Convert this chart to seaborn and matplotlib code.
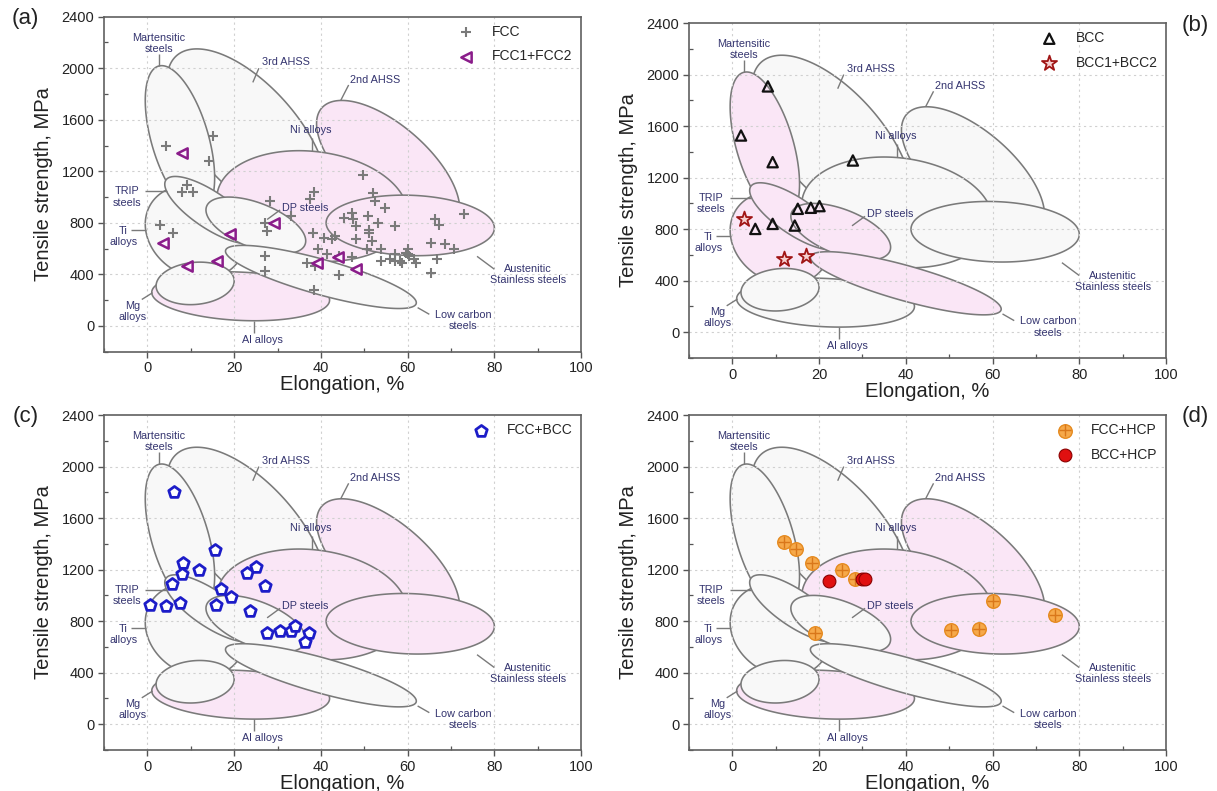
import numpy as np
import matplotlib
matplotlib.use("Agg")
import matplotlib.pyplot as plt
from matplotlib.ticker import MultipleLocator
from matplotlib.legend_handler import HandlerTuple
import seaborn as sns

# ---------------- property regions (ellipses) ----------------
# centre (elongation %, MPa), half-width (%), half-height (MPa),
# y-offset of the right-most point from the centre (MPa, gives the tilt)
region_names = ["3rd AHSS", "Martensitic", "2nd AHSS", "Ni alloys", "Austenitic",
                "Al alloys", "Ti alloys", "TRIP", "Mg alloys", "DP steels", "Low carbon"]
region_cx = [23.0, 7.5, 55.5, 38.0, 60.6, 21.5, 11.0, 14.5, 11.0, 25.0, 40.0]
region_cy = [1480, 1450, 1240, 930, 780, 230, 730, 900, 330, 780, 380]
region_w = [18.5, 8.0, 16.5, 22.0, 19.4, 20.5, 11.5, 10.5, 9.0, 11.5, 22.0]
region_h = [670, 570, 510, 430, 235, 190, 360, 260, 165, 220, 245]
region_s = [-420, -300, -330, -60, -20, -30, -60, -200, 20, -120, -200]

pink_a = ["Ni alloys", "2nd AHSS", "Austenitic", "Al alloys"]
pink_b = ["Martensitic", "TRIP", "Ti alloys", "DP steels", "Low carbon"]

# ---------------- region labels ----------------
label_text = ["Martensitic\nsteels", "3rd AHSS", "2nd AHSS", "Ni alloys", "TRIP\nsteels",
              "Ti\nalloys", "DP steels", "Austenitic\nStainless steels", "Low carbon\nsteels",
              "Mg\nalloys", "Al alloys"]
label_x = [2.7, 32.0, 52.6, 37.6, -4.8, -5.5, 36.4, 87.8, 72.8, -3.4, 26.6]
label_y = [2194, 2046, 1908, 1523, 1000, 697, 916, 396, 40, 112, -106]
leader_x0 = [2.7, 25.7, 46.4, 38.0, -0.6, -3.8, 30.6, 76.0, 62.3, -1.3, 24.5]
leader_y0 = [2110, 2000, 1870, 1460, 1045, 748, 900, 540, 142, 205, -55]
leader_x1 = [2.7, 24.3, 44.6, 38.0, 4.4, -0.3, 27.6, 80.0, 65.0, 1.2, 24.5]
leader_y1 = [2018, 1890, 1752, 1358, 1045, 748, 826, 440, 90, 258, 40]

# ---------------- data ----------------
fcc_x = [4.2, 15.1, 14.2, 9.2, 8.0, 10.5, 3.0, 5.8, 28.3, 27.0, 27.6, 27.2, 27.0,
         33.2, 37.4, 38.3, 38.1, 39.3, 36.7, 38.7, 38.3, 40.7, 41.3, 42.5, 43.3, 44.2,
         44.2, 45.3, 47.1, 47.3, 48.0, 48.2, 47.1, 49.7, 50.8, 51.2, 51.7, 50.7, 51.9,
         52.4, 53.1, 53.9, 53.9, 54.8, 57.0, 57.0, 57.0, 58.3, 59.7, 60.1, 60.4, 61.4,
         62.0, 65.4, 65.4, 66.3, 67.2, 66.7, 68.5, 70.7, 72.9, 51.2, 56.0, 58.8, 60.0]
fcc_y = [1394, 1476, 1277, 1097, 1037, 1037, 787, 723, 968, 800, 735, 542, 426,
         852, 986, 1037, 723, 594, 490, 465, 276, 684, 555, 671, 697, 542,
         392, 839, 877, 826, 774, 671, 537, 1174, 852, 748, 658, 594, 1032,
         968, 800, 594, 503, 916, 774, 555, 503, 503, 568, 594, 542, 516,
         490, 645, 413, 826, 787, 516, 632, 594, 865, 723, 520, 490, 560]
fcc2_x = [7.9, 3.6, 9.1, 16.0, 19.1, 29.2, 39.2, 44.0, 48.2]
fcc2_y = [1342, 640, 465, 503, 710, 800, 490, 534, 439]

bcc_x = [8.2, 2.0, 9.3, 27.8, 15.1, 18.1, 20.1, 9.3, 14.4, 5.3]
bcc_y = [1908, 1527, 1320, 1333, 958, 966, 979, 841, 828, 802]
bcc2_x = [2.7, 12.0, 17.0]
bcc2_y = [880, 570, 595]

fccbcc_x = [6.1, 15.5, 8.3, 12.0, 8.0, 23.0, 25.1, 5.6, 27.0, 17.0, 19.2, 0.5, 4.2,
            7.6, 15.7, 23.7, 27.6, 30.6, 33.0, 34.1, 37.2, 36.3]
fccbcc_y = [1799, 1351, 1248, 1199, 1170, 1173, 1224, 1087, 1074, 1048, 991, 927, 919,
            945, 927, 880, 707, 725, 725, 764, 707, 639]

fcchcp_x = [12.0, 14.8, 18.4, 25.4, 28.2, 19.0, 60.1, 74.3, 50.5, 56.9]
fcchcp_y = [1411, 1359, 1248, 1199, 1126, 707, 958, 849, 730, 738]
bcchcp_x = [22.2, 29.9, 30.6]
bcchcp_y = [1113, 1126, 1126]

x_ticks = [0, 20, 40, 60, 80, 100]
y_ticks = [0, 400, 800, 1200, 1600, 2000, 2400]

# ---------------- style ----------------
sns.set_theme(style="white")
plt.rcParams["font.family"] = ["Liberation Sans", "DejaVu Sans"]

PINK = "#fae6f6"
WHITE = "#f8f8f8"
EDGE = "#7a7a7a"
LBL = "#34346f"

fig = plt.figure(figsize=(12.17, 7.91), dpi=100)
positions = {"a": [0.0855, 0.5554, 0.392, 0.4235],
             "b": [0.5661, 0.5474, 0.392, 0.4235],
             "c": [0.0855, 0.0518, 0.392, 0.4235],
             "d": [0.5661, 0.0518, 0.392, 0.4235]}


def ellipse_outline(cx, cy, w, h, s, n=240):
    t = np.linspace(0, 2 * np.pi, n)
    v = np.sqrt(h ** 2 - s ** 2)
    return cx + w * np.cos(t), cy + s * np.cos(t) + v * np.sin(t)


def base_axes(key, pink):
    ax = fig.add_axes(positions[key])
    for i, name in enumerate(region_names):
        ex, ey = ellipse_outline(region_cx[i], region_cy[i], region_w[i],
                                 region_h[i], region_s[i])
        ax.fill(ex, ey, facecolor=PINK if name in pink else WHITE,
                edgecolor=EDGE, linewidth=1.15, zorder=2 + 0.01 * i)
    for xv in x_ticks[:-1]:
        ax.axvline(xv, color="#d0d0d0", lw=0.8, ls=(0, (2, 3)), zorder=2.5)
    for yv in y_ticks[:-1]:
        ax.axhline(yv, color="#d0d0d0", lw=0.8, ls=(0, (2, 3)), zorder=2.5)
    for i, txt in enumerate(label_text):
        ax.plot([leader_x0[i], leader_x1[i]], [leader_y0[i], leader_y1[i]],
                color=EDGE, lw=1.0, zorder=3, solid_capstyle="butt")
        ax.text(label_x[i], label_y[i], txt, color=LBL, fontsize=7.8,
                ha="center", va="center", linespacing=1.15, zorder=4)
    ax.set_xlim(-10, 100)
    ax.set_ylim(-200, 2400)
    ax.set_xticks(x_ticks)
    ax.set_yticks(y_ticks)
    ax.xaxis.set_minor_locator(MultipleLocator(10))
    ax.yaxis.set_minor_locator(MultipleLocator(200))
    ax.tick_params(which="major", direction="out", length=4, width=1.0,
                   color="#555555", labelsize=10.5, labelcolor="#222222", pad=3,
                   bottom=True, left=True)
    ax.tick_params(which="minor", direction="in", length=3, width=0.9,
                   color="#555555", bottom=True, left=True)
    for sp in ax.spines.values():
        sp.set_color("#606060")
        sp.set_linewidth(1.2)
    ax.set_xlabel("Elongation, %", fontsize=14.5, color="#222222", labelpad=0)
    ax.set_ylabel("Tensile strength, MPa", fontsize=14.5, color="#222222", labelpad=6)
    return ax


def add_legend(ax, handles=None, labels=None):
    if handles is None:
        handles, labels = ax.get_legend_handles_labels()
    ax.legend(handles, labels, loc="upper right", frameon=False, fontsize=10,
              handletextpad=0.9, labelspacing=0.75, borderaxespad=0.2,
              handler_map={tuple: HandlerTuple(ndivide=1, pad=0)})


# ---------- (a) ----------
ax = base_axes("a", pink_a)
sns.scatterplot(x=fcc_x, y=fcc_y, marker="+", s=60, color="#7a7a7a", linewidth=1.5,
                label="FCC", ax=ax, zorder=5)
sns.scatterplot(x=fcc2_x, y=fcc2_y, marker="<", s=55, facecolor="#fdf4fd",
                edgecolor="#8a1c8a", linewidth=1.8, label="FCC1+FCC2", ax=ax, zorder=6)
add_legend(ax)

# ---------- (b) ----------
ax = base_axes("b", pink_b)
sns.scatterplot(x=bcc_x, y=bcc_y, marker="^", s=55, facecolor="none",
                edgecolor="#111111", linewidth=1.6, label="BCC", ax=ax, zorder=5)
sns.scatterplot(x=bcc2_x, y=bcc2_y, marker="*", s=130, facecolor="#f6d0d0",
                edgecolor="#a01515", linewidth=1.3, label="BCC1+BCC2", ax=ax, zorder=6)
add_legend(ax)

# ---------- (c) ----------
ax = base_axes("c", pink_a)
sns.scatterplot(x=fccbcc_x, y=fccbcc_y, marker="p", s=75, facecolor="white",
                edgecolor="#1c1cc8", linewidth=2.0, label="FCC+BCC", ax=ax, zorder=5)
add_legend(ax)

# ---------- (d) ----------
ax = base_axes("d", pink_a)
sns.scatterplot(x=fcchcp_x, y=fcchcp_y, marker="o", s=95, color="#f6a94a",
                edgecolor="#e58a1f", linewidth=1.0, label="FCC+HCP", ax=ax, zorder=5)
sns.scatterplot(x=fcchcp_x, y=fcchcp_y, marker="+", s=70, color="#d9771a",
                linewidth=1.0, ax=ax, zorder=6, legend=False)
sns.scatterplot(x=bcchcp_x, y=bcchcp_y, marker="o", s=85, color="#e01010",
                edgecolor="#8a0000", linewidth=0.8, label="BCC+HCP", ax=ax, zorder=7)
h, l = ax.get_legend_handles_labels()
plus_handle = plt.Line2D([], [], marker="+", ls="none", color="#d9771a",
                         markersize=8, markeredgewidth=1.0)
h = [(h[0], plus_handle)] + h[1:]
add_legend(ax, h, l)

# panel letters
fig.text(0.021, 0.977, "(a)", fontsize=16, ha="center", va="center", color="#222222")
fig.text(0.982, 0.968, "(b)", fontsize=16, ha="center", va="center", color="#222222")
fig.text(0.021, 0.473, "(c)", fontsize=16, ha="center", va="center", color="#222222")
fig.text(0.982, 0.473, "(d)", fontsize=16, ha="center", va="center", color="#222222")

fig.savefig("out.png", dpi=100, facecolor="white")
